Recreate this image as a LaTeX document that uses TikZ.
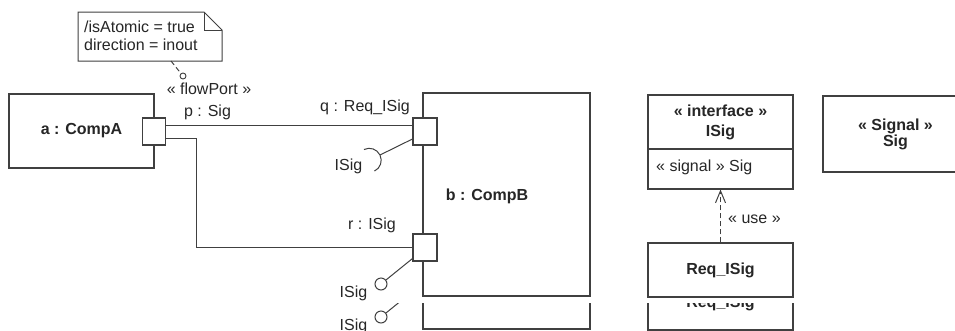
\documentclass[tikz,border=0pt]{standalone}
\usepackage{fontspec}
\setmainfont{Liberation Sans}
\usepackage{tikz}
\usetikzlibrary{positioning, calc, arrows.meta}

\begin{document}
\begin{tikzpicture}[x=1pt, y=1pt,
  every node/.style={font=\fontsize{16}{19}\selectfont, text=black!85, inner sep=0pt},
  title/.style={font=\fontsize{16}{20}\selectfont\bfseries},
  part/.style={draw=black!75, line width=1.1pt, fill=white, align=center},
  port/.style={draw=black!75, line width=1.1pt, fill=white, minimum width=23, minimum height=27},
  ball/.style={circle, draw=black!75, line width=1pt, fill=white, minimum size=12},
  wire/.style={black!75, line width=1pt},
  link/.style={black!75, line width=1pt, dash pattern=on 5pt off 3pt}]
  % frame of the picture
  \path[use as bounding box] (0,0) rectangle (955,-330);
  \clip (0,0) rectangle (955,-330);

  % note on the flow port
  \draw[wire, fill=white] (78,-12) -- (204,-12) -- (222,-30) -- (222,-61) -- (78,-61) -- cycle;
  \draw[wire] (204,-12) -- (204,-30) -- (222,-30);
  \node[anchor=west, align=left, font=\fontsize{16}{18}\selectfont] (note) at (84,-36)
    {/isAtomic = true\\direction = inout};
  \node[circle, draw=black!75, line width=0.9pt, fill=white, minimum size=6] (pin) at (183,-76) {};
  \draw[link] (171,-61) -- (pin);

  % part a with its port p
  \node[part, title, minimum width=145, minimum height=74] (a) at (81.5,-131) {a : CompA};
  \node[port] (p) at (154,-131.5) {};
  \node (flowp) at (209,-89) {« flowPort »};
  \node (plbl) at (207.5,-112) {p : Sig};

  % part b with its ports q and r
  \node[part, minimum width=167, minimum height=203] (b) at (506.5,-194.5) {};
  \node[title] (bname) at (487,-196) {b : CompB};
  \node[port, minimum width=24] (q) at (425,-131.5) {};
  \node[port, minimum width=24] (r) at (425,-247.5) {};
  \node (qlbl) at (365,-107) {q : Req\_ISig};
  \node (rlbl) at (372,-225) {r : ISig};

  % connectors between the ports
  \draw[wire] ($(p.east)+(0,6.5)$) -- ($(q.west)+(0,6.5)$);
  \draw[wire] ($(p.east)+(0,-6.5)$) -- ++(30,0) |- (r.west);

  % required interface on q (socket)
  \coordinate (qsock) at (380,-155);
  \draw[wire] ($(q.west)+(0,-7.5)$) -- (qsock);
  \draw[wire] (369.2,-160.3) ++(116:12) arc[start angle=116, end angle=-64, radius=12];
  \node (qisig) at (348.5,-166) {ISig};

  % provided interface on r (ball)
  \node[ball] (rball) at (381,-284) {};
  \draw[wire] ($(r.south west)+(0,3)$) -- (rball);
  \node (risig) at (353.5,-293) {ISig};

  % interface ISig and its user
  \node[part, title, minimum width=145, minimum height=54] (iface) at (720.5,-122)
    {« interface »\\ISig};
  \node[part, minimum width=145, minimum height=40] (ifaceops) at (720.5,-169) {};
  \node[anchor=west] (sigop) at (656,-167) {« signal » Sig};
  \node[part, title, minimum width=145, minimum height=54] (req) at (720.5,-270) {Req\_ISig};
  \draw[link, -{Straight Barb[length=12pt, width=10pt, line width=1pt]}] (req.north) -- (ifaceops.south);
  \node[anchor=west] (use) at (728,-219) {« use »};

  % signal Sig
  \node[part, title, minimum width=145, minimum height=76, font=\fontsize{16}{16}\selectfont\bfseries]
    (sig) at (895.5,-134) {« Signal »\\Sig};

  % repeated strip at the bottom
  \begin{scope}
    \clip (330,-303.5) rectangle (800,-331);
    \begin{scope}[yshift=-33pt]
      \node[part, minimum width=167, minimum height=203] (b2) at (506.5,-194.5) {};
      \node[port, minimum width=24] (r2) at (425,-247.5) {};
      \node[ball] (rball2) at (381,-284) {};
      \draw[wire] ($(r2.south west)+(0,3)$) -- (rball2);
      \node (risig2) at (353.5,-293) {ISig};
      \node[part, title, minimum width=145, minimum height=54] (req2) at (720.5,-270) {Req\_ISig};
    \end{scope}
  \end{scope}
\end{tikzpicture}
\end{document}
